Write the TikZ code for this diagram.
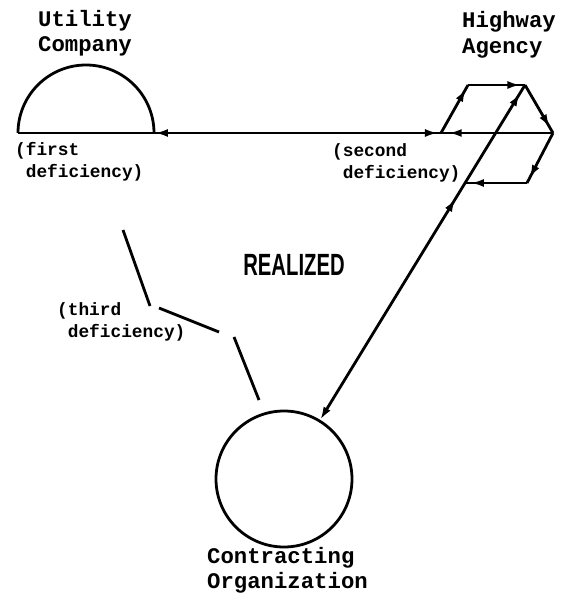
\documentclass[tikz,border=0pt]{standalone}
\usepackage{fontspec}
\newfontfamily\typewriter{Liberation Mono}
\newfontfamily\lettering{Liberation Sans}
\usetikzlibrary{arrows.meta,decorations.markings}

\begin{document}
\begin{tikzpicture}[x=1pt, y=-1pt,
    party/.style={font=\typewriter\bfseries\fontsize{22.3}{25}\selectfont, align=left, inner sep=0pt, anchor=base west},
    note/.style={font=\typewriter\bfseries\fontsize{17.8}{22}\selectfont, align=left, inner sep=0pt, anchor=base west},
    wire/.style={line width=2.8pt},
    headmid/.style={postaction={decorate, decoration={markings, mark=at position #1 with {\arrow{Latex[length=13pt,width=8pt]}}}}},
    headback/.style={postaction={decorate, decoration={markings, mark=at position #1 with {\arrowreversed{Latex[length=13pt,width=8pt]}}}}}
]
\useasboundingbox (0,0) rectangle (562,594);

% parties
\coordinate (uc-w) at (18,133);
\coordinate (uc-e) at (154,133);
\coordinate (ha-w) at (441,133);
\coordinate (ha-nw) at (468,85);
\coordinate (ha-ne) at (525,85);
\coordinate (ha-e) at (553,133);
\coordinate (ha-se) at (527,183);
\coordinate (ha-sw) at (466,183);
\node[draw, circle, wire, minimum size=136pt, inner sep=0pt] (co) at (284,479) {};

\node[party] (uc) at (38,52) {Utility\\Company};
\node[party] (ha) at (462,53) {Highway\\Agency};
\node[party] (co-lbl) at (207,588) {Contracting\\Organization};

% deficiencies
\node[note] (first) at (15,177) {(first\\~deficiency)};
\node[note] (second) at (332,178) {(second\\~deficiency)};
\node[note] (third) at (57,337) {(third\\~deficiency)};
\node[font=\lettering\bfseries\fontsize{30.7}{32}\selectfont, anchor=base, inner sep=0pt] (realized) at (294,275) {\scalebox{0.66}[1]{REALIZED}};

\draw[wire] (uc-w) arc[start angle=180, end angle=360, radius=68];
\draw[wire, headback=0.256, headmid=0.785, headback=0.805] (uc-w) -- (ha-e);

\draw[wire, headmid=0.92] (ha-w) -- (ha-nw);
\draw[wire, headmid=0.92] (ha-nw) -- (ha-ne);
\draw[wire, headmid=0.88] (ha-ne) -- (ha-e);
\draw[wire, headmid=0.9] (ha-e) -- (ha-se);
\draw[wire, headmid=0.92] (ha-se) -- (ha-sw);
\draw[wire, {Latex[length=13pt,width=8pt]}-, headmid=0.66, headmid=0.975] (co) -- (ha-ne);

% third deficiency, broken
\coordinate (td-a) at (123,230);
\coordinate (td-b) at (150,306);
\coordinate (td-c) at (159,308);
\coordinate (td-d) at (219,332);
\coordinate (td-e) at (234,337);
\coordinate (td-f) at (259,400);
\draw[wire] (td-a) -- (td-b) (td-c) -- (td-d) (td-e) -- (td-f);
\end{tikzpicture}
\end{document}
